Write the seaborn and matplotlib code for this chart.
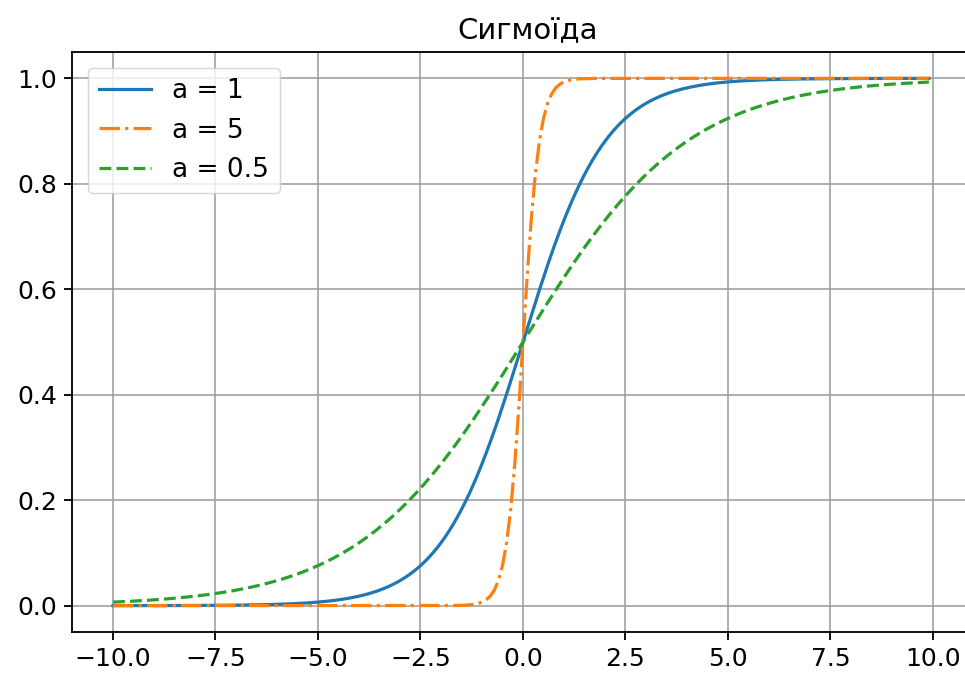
import numpy as np
import pandas as pd
import matplotlib
matplotlib.use("Agg")
import matplotlib.pyplot as plt
import seaborn as sns

# Chart content: sigmoid curves 1/(1+exp(-a*x)) for the parameters in the legend
a_values = [1, 5, 0.5]
labels = ["a = 1", "a = 5", "a = 0.5"]
colors = ["#1f77b4", "#ff7f0e", "#2ca02c"]
linestyles = ["-", "-.", "--"]
x_start, x_stop, x_step = -10.0, 10.0, 0.1
x_ticks = [-10.0, -7.5, -5.0, -2.5, 0.0, 2.5, 5.0, 7.5, 10.0]
y_ticks = [0.0, 0.2, 0.4, 0.6, 0.8, 1.0]
title = "Сигмоїда"

s = 1.65
plt.rcParams.update({
    "font.size": 18,
    "axes.linewidth": 0.8 * s,
    "xtick.major.width": 0.8 * s,
    "ytick.major.width": 0.8 * s,
    "xtick.major.size": 3.5 * s,
    "ytick.major.size": 3.5 * s,
    "xtick.major.pad": 3.0 * s,
    "ytick.major.pad": 3.0 * s,
})

fig = plt.figure(figsize=(9.65, 6.77), dpi=100)
ax = fig.add_axes([72.2 / 965, 45 / 677, 910 / 965, 580 / 677])

x = np.arange(x_start, x_stop, x_step)
for a, lab, c, ls in zip(a_values, labels, colors, linestyles):
    df = pd.DataFrame({"x": x, "y": 1 / (1 + np.exp(-a * x))})
    sns.lineplot(data=df, x="x", y="y", ax=ax, color=c, linestyle=ls,
                 linewidth=1.4 * s, label=lab)

ax.set_xlim(-10.995, 11.2)
ax.set_ylim(-0.05, 1.05)
ax.set_xticks(x_ticks)
ax.set_yticks(y_ticks)
ax.set_xticklabels([f"{t:.1f}".replace("-", "\u2212") for t in x_ticks])
ax.set_yticklabels([f"{t:.1f}" for t in y_ticks])
ax.set_xlabel("")
ax.set_ylabel("")
ax.spines["right"].set_visible(False)
ax.grid(True, color="#9a9a9a", linewidth=1.1)
ax.set_title(title, fontsize=21, pad=9)
ax.legend(loc="upper left", fontsize=19, borderaxespad=0.6)

fig.savefig("out.png", dpi=100)
